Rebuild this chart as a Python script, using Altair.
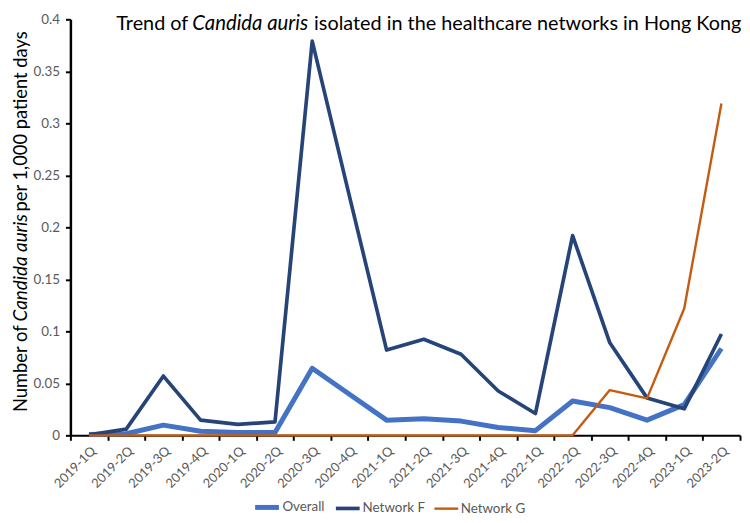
import altair as alt
import pandas as pd

quarters = ["2019-1Q", "2019-2Q", "2019-3Q", "2019-4Q", "2020-1Q", "2020-2Q",
            "2020-3Q", "2020-4Q", "2021-1Q", "2021-2Q", "2021-3Q", "2021-4Q",
            "2022-1Q", "2022-2Q", "2022-3Q", "2022-4Q", "2023-1Q", "2023-2Q"]
overall = [0.0008, 0.0015, 0.0098, 0.004, 0.0027, 0.0027, 0.0645, 0.0395, 0.0146,
           0.016, 0.0137, 0.0076, 0.0045, 0.033, 0.0267, 0.0146, 0.0295, 0.0835]
network_f = [0.0005, 0.006, 0.057, 0.0146, 0.0105, 0.013, 0.379, 0.23, 0.082,
             0.0924, 0.078, 0.0426, 0.021, 0.192, 0.089, 0.036, 0.0255, 0.0974]
network_g = [0, 0, 0, 0, 0, 0, 0, 0, 0, 0, 0, 0, 0, 0, 0.0435, 0.0355, 0.122, 0.319]
series_names = ["Overall", "Network F", "Network G"]
series_colors = ["#4472C4", "#264478", "#C55A11"]
series_widths = [5, 2.4, 2.2]
y_ticks = [0, 0.05, 0.1, 0.15, 0.2, 0.25, 0.3, 0.35, 0.4]
title_parts = ["Trend of", "Candida auris", "isolated in the healthcare networks in Hong Kong"]
ytitle_parts = ["Number of", "Candida auris", "per 1,000 patient days"]

rows = []
for name, vals in zip(series_names, [overall, network_f, network_g]):
    for q, v in zip(quarters, vals):
        rows.append({"quarter": q, "series": name, "value": v})
df = pd.DataFrame(rows)

FONT = "Lato"
GREY = "#595959"

x_enc = alt.X(
    "quarter:N", sort=quarters, bandPosition=0.5,
    scale=alt.Scale(type="band", paddingInner=0, paddingOuter=0),
    axis=alt.Axis(title=None, labelAngle=-45, tickBand="extent", labelFont=FONT,
                  labelFontSize=13, labelColor=GREY, labelPadding=4,
                  domainColor="black", domainWidth=2, tickColor="black",
                  tickWidth=2, tickSize=5, grid=False),
)
y_enc = alt.Y(
    "value:Q", scale=alt.Scale(domain=[0, 0.4], nice=False),
    axis=alt.Axis(title=None, values=y_ticks, format="~g", labelFont=FONT,
                  labelFontSize=13.5, labelColor=GREY, labelPadding=6,
                  domainColor="black", domainWidth=2.5, tickColor="black",
                  tickWidth=2, tickSize=5, grid=False),
)
legend = alt.Legend(title=None, orient="none", legendX=184, legendY=478,
                    direction="horizontal", symbolType="stroke", symbolSize=576,
                    labelFont=FONT, labelFontSize=13.5, labelColor=GREY,
                    labelOffset=1, columnPadding=3)
color_enc = alt.Color("series:N", scale=alt.Scale(domain=series_names, range=series_colors),
                      legend=legend)
width_enc = alt.StrokeWidth("series:N", scale=alt.Scale(domain=series_names, range=series_widths),
                            legend=legend)

base = alt.Chart(df).mark_line(strokeJoin="round").encode(
    x=x_enc, y=y_enc, color=color_enc, strokeWidth=width_enc
)
lines = [base.transform_filter(alt.datum.series == s) for s in series_names]

def txt(s, x, y, align, angle=0, italic=False, size=20, baseline="alphabetic"):
    kw = dict(text=s, align=align, baseline=baseline, font=FONT, fontSize=size,
              color="black", angle=angle)
    if italic:
        kw["fontStyle"] = "italic"
    return alt.Chart(pd.DataFrame({"a": [0]})).mark_text(**kw).encode(
        x=alt.value(x), y=alt.value(y))

texts = [
    txt(title_parts[0], 119, 11, "right"),
    txt(title_parts[1], 123, 11, "left", italic=True, size=20.5),
    txt(title_parts[2], 246, 11, "left"),
    txt(ytitle_parts[0], -44, 309, "right", angle=270, size=18.5),
    txt(ytitle_parts[1], -44, 305, "left", angle=270, italic=True, size=19),
    txt(ytitle_parts[2], -44, 194, "left", angle=270, size=18.5),
]

chart = alt.layer(*lines, *texts).properties(
    width=676, height=420,
    autosize=alt.AutoSizeParams(type="none"),
    padding={"left": 63, "top": 9, "right": 2, "bottom": 78},
).configure_view(stroke=None)

chart.save("out.html", embed_options={"renderer": "svg", "actions": False})
